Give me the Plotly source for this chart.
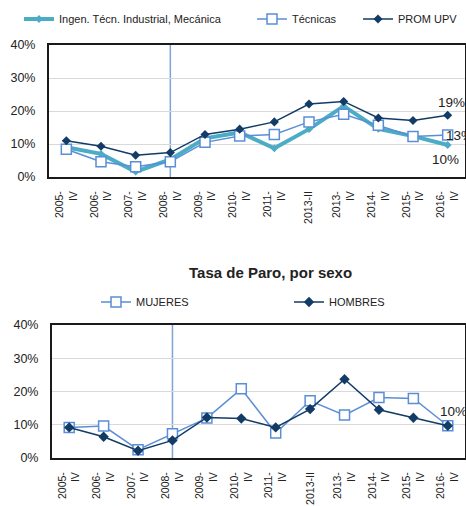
import plotly.graph_objects as go

categories = ["2005-IV", "2006-IV", "2007-IV", "2008-IV", "2009-IV", "2010-IV",
              "2011-IV", "2013-II", "2013-IV", "2014-IV", "2015-IV", "2016-IV"]

ingen = [0.090, 0.070, 0.016, 0.053, 0.117, 0.135, 0.087, 0.145, 0.215, 0.146, 0.124, 0.097]
tecnicas = [0.084, 0.046, 0.031, 0.046, 0.105, 0.124, 0.129, 0.167, 0.190, 0.157, 0.123, 0.127]
prom_upv = [0.110, 0.093, 0.066, 0.074, 0.129, 0.145, 0.167, 0.221, 0.229, 0.179, 0.171, 0.187]

mujeres = [0.092, 0.096, 0.025, 0.073, 0.120, 0.208, 0.075, 0.172, 0.129, 0.182, 0.179, 0.097]
hombres = [0.092, 0.064, 0.022, 0.053, 0.122, 0.119, 0.092, 0.147, 0.237, 0.145, 0.121, 0.097]

ref_category = "2008-IV"
title_bottom = "Tasa de Paro, por sexo"

TEAL = "#4BACC6"
LBLUE = "#5A8ED6"
NAVY = "#123B66"
VLINE = "#7EA3D4"
FONT = "Liberation Sans, Arial, sans-serif"
W, H = 466, 506


def px(x):
    return x / W


def py(y):
    return 1 - y / H


def tick_label(c):
    # "2005-IV" -> two lines, second line pushed to the top end of the rotated label
    if c.endswith("-IV"):
        return c[:-2] + "<br>" + "\u00a0" * 6 + "IV"
    return c


ticktext = [tick_label(c) for c in categories]
n_cat = len(categories)

fig = go.Figure()

# top chart
fig.add_trace(go.Scatter(x=categories, y=ingen, name="Ingen. Técn. Industrial, Mecánica",
                         mode="lines+markers", line=dict(color=TEAL, width=4),
                         marker=dict(symbol="diamond", size=6, color=TEAL),
                         xaxis="x", yaxis="y", legend="legend", cliponaxis=False))
fig.add_trace(go.Scatter(x=categories, y=tecnicas, name="Técnicas",
                         mode="lines+markers", line=dict(color=LBLUE, width=1.5),
                         marker=dict(symbol="square", size=10, color="white",
                                     line=dict(color=LBLUE, width=1.5)),
                         xaxis="x", yaxis="y", legend="legend2", cliponaxis=False))
fig.add_trace(go.Scatter(x=categories, y=prom_upv, name="PROM UPV",
                         mode="lines+markers", line=dict(color=NAVY, width=1.5),
                         marker=dict(symbol="diamond", size=7, color=NAVY),
                         xaxis="x", yaxis="y", legend="legend3", cliponaxis=False))

# bottom chart
fig.add_trace(go.Scatter(x=categories, y=mujeres, name="MUJERES",
                         mode="lines+markers", line=dict(color=LBLUE, width=1.5),
                         marker=dict(symbol="square", size=10, color="white",
                                     line=dict(color=LBLUE, width=1.5)),
                         xaxis="x2", yaxis="y2", legend="legend4", cliponaxis=False))
fig.add_trace(go.Scatter(x=categories, y=hombres, name="HOMBRES",
                         mode="lines+markers", line=dict(color=NAVY, width=1.5),
                         marker=dict(symbol="diamond", size=8, color=NAVY),
                         xaxis="x2", yaxis="y2", legend="legend5", cliponaxis=False))

axis_common = dict(showline=True, linecolor="#1a1a1a", linewidth=2, mirror=True, automargin=False)
xcommon = dict(axis_common, type="category", categoryorder="array", categoryarray=categories,
               range=[-0.5, n_cat - 0.5],
               tickmode="array", tickvals=categories, ticktext=ticktext,
               tickangle=-90, ticks="", showgrid=False, ticklabelstandoff=8,
               tickfont=dict(family=FONT, size=10.5, color="#222"))
ycommon = dict(axis_common, range=[0, 0.4], dtick=0.1, tickformat=".0%", showgrid=True,
               gridcolor="#D9D9D9", gridwidth=1, ticks="", zeroline=False,
               tickfont=dict(family=FONT, size=12.5, color="#222"), ticklabelstandoff=9)

leg_common = dict(orientation="h", yanchor="middle", xanchor="left", bgcolor="rgba(0,0,0,0)",
                  font=dict(family=FONT, size=11, color="#222"), borderwidth=0)

fig.update_layout(
    width=W, height=H, margin=dict(l=0, r=0, t=0, b=0, autoexpand=False),
    paper_bgcolor="white", plot_bgcolor="white",
    font=dict(family=FONT, color="#222"),
    xaxis=dict(xcommon, domain=[px(49), px(465)], anchor="y"),
    yaxis=dict(ycommon, domain=[py(177), py(45)], anchor="x"),
    xaxis2=dict(xcommon, domain=[px(52), px(465)], anchor="y2"),
    yaxis2=dict(ycommon, domain=[py(458), py(325)], anchor="x2"),
    legend=dict(leg_common, x=px(19), y=py(19)),
    legend2=dict(leg_common, x=px(252), y=py(19)),
    legend3=dict(leg_common, x=px(358), y=py(19)),
    legend4=dict(leg_common, x=px(96), y=py(302)),
    legend5=dict(leg_common, x=px(289), y=py(302)),
    showlegend=True,
)

# reference vertical lines at 2008-IV
for xr, yr in (("x", "y"), ("x2", "y2")):
    fig.add_shape(type="line", xref=xr, yref=yr, x0=ref_category, x1=ref_category,
                  y0=0, y1=0.4, line=dict(color=VLINE, width=1.5), layer="below")

lab_font = dict(family=FONT, size=13.5, color="#222")
last = categories[-1]
fig.add_annotation(x=last, y=prom_upv[-1], xref="x", yref="y", text=f"{prom_upv[-1]:.0%}",
                   showarrow=False, yanchor="bottom", xanchor="center", xshift=4, yshift=3, font=lab_font)
fig.add_annotation(x=last, y=tecnicas[-1], xref="x", yref="y", text=f"{tecnicas[-1]:.0%}",
                   showarrow=False, yanchor="middle", xanchor="left", xshift=-4, font=lab_font)
fig.add_annotation(x=last, y=ingen[-1], xref="x", yref="y", text=f"{ingen[-1]:.0%}",
                   showarrow=False, yanchor="top", xanchor="center", xshift=-2, yshift=-5, font=lab_font)
fig.add_annotation(x=last, y=hombres[-1], xref="x2", yref="y2", text=f"{hombres[-1]:.0%}",
                   showarrow=False, yanchor="bottom", xanchor="center", xshift=6, yshift=5, font=lab_font)

fig.add_annotation(x=px(270), y=py(272), xref="paper", yref="paper", text=f"<b>{title_bottom}</b>",
                   showarrow=False, xanchor="center", yanchor="middle",
                   font=dict(family=FONT, size=15, color="#222"))

fig.write_html("out.html", config={"displayModeBar": False},
               post_script="document.body.style.margin='0';")
